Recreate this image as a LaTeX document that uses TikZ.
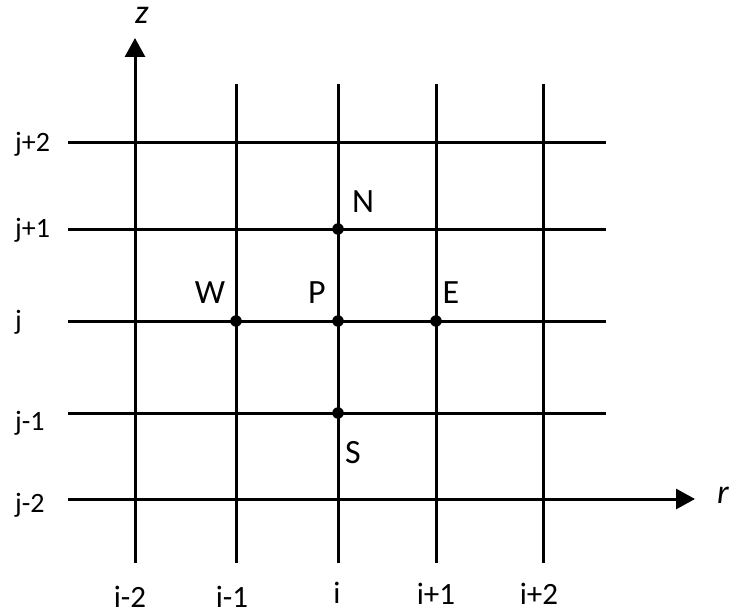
\documentclass[tikz,border=0pt]{standalone}
\usepackage{fontspec}
\setmainfont{Carlito}
\usetikzlibrary{arrows.meta}
\begin{document}
\begin{tikzpicture}[x=1pt,y=-1pt,
  gridline/.style={line width=3pt},
  axisline/.style={line width=3pt,-{Triangle[length=19pt,width=20pt]}},
  gpoint/.style={circle,fill=black,minimum size=11.5pt,inner sep=0pt},
  ptlabel/.style={inner sep=0pt,font=\fontsize{34}{40}\selectfont},
  jlabel/.style={inner sep=0pt,anchor=base west,font=\fontsize{28}{34}\selectfont},
  ilabel/.style={inner sep=0pt,anchor=base,font=\fontsize{31}{36}\selectfont},
  axlabel/.style={inner sep=0pt,anchor=base west,font=\fontsize{34}{40}\selectfont\itshape}]
\useasboundingbox (0,0) rectangle (731,615);
% line ends
\coordinate (zb) at (135,563); \coordinate (zt) at (135,38);
\coordinate (rl) at (68,499);  \coordinate (rr) at (695,499);
\foreach \n/\x in {a/236,b/338,c/436,d/543}{
  \coordinate (v\n t) at (\x,84); \coordinate (v\n b) at (\x,563);
  \draw[gridline] (v\n t) -- (v\n b);}
\foreach \n/\y in {a/143,b/229,c/321,d/413}{
  \coordinate (h\n l) at (68,\y); \coordinate (h\n r) at (606,\y);
  \draw[gridline] (h\n l) -- (h\n r);}
\draw[axisline] (zb) -- (zt);
\draw[axisline] (rl) -- (rr);
\node[axlabel] (zlab) at (135,24) {z};
\node[axlabel] (rlab) at (717,503) {r};
% points
\node[gpoint] (N) at (338,229) {};
\node[gpoint] (W) at (236,321) {};
\node[gpoint] (P) at (338,321) {};
\node[gpoint] (E) at (436,321) {};
\node[gpoint] (S) at (338,413) {};
\node[ptlabel] (Nl) at (363,202) {N};
\node[ptlabel] (Wl) at (210,293) {W};
\node[ptlabel] (Pl) at (317,293) {P};
\node[ptlabel] (El) at (451,293) {E};
\node[ptlabel] (Sl) at (353,453) {S};
% j labels
\node[jlabel] (j2) at (15,152) {j+2};
\node[jlabel] (j1) at (15,237) {j+1};
\node[jlabel] (j0) at (15,329) {j};
\node[jlabel] (jm1) at (15,430) {j-1};
\node[jlabel] (jm2) at (15,512) {j-2};
% i labels
\node[ilabel] (im2) at (130,607) {i-2};
\node[ilabel] (im1) at (232,607) {i-1};
\node[ilabel] (i0) at (337,603) {i};
\node[ilabel] (i1) at (436,604) {i+1};
\node[ilabel] (i2) at (539,604) {i+2};
\end{tikzpicture}
\end{document}
